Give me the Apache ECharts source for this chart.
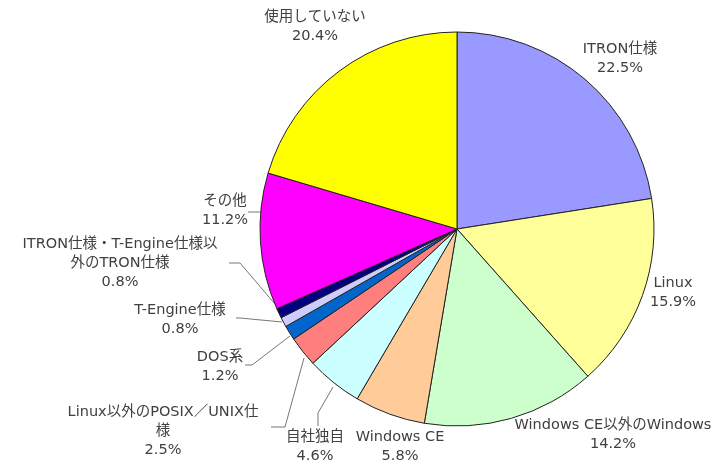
<!DOCTYPE html>
<html>
<head>
<meta charset="utf-8">
<script src="https://cdn.jsdelivr.net/npm/echarts@6/dist/echarts.min.js"></script>
<style>
html,body{margin:0;padding:0;background:#fff;}
#chart{width:718px;height:466px;}
</style>
</head>
<body>
<div id="chart"></div>
<script>
// Data
var categories = [
  'ITRON仕様',
  'Linux',
  'Windows CE以外のWindows',
  'Windows CE',
  '自社独自',
  'Linux以外のPOSIX／UNIX仕\n様',
  'DOS系',
  'T-Engine仕様',
  'ITRON仕様・T-Engine仕様以\n外のTRON仕様',
  'その他',
  '使用していない'
];
var shares = [22.5, 15.9, 14.2, 5.8, 4.6, 2.5, 1.2, 0.8, 0.8, 11.2, 20.4];

// Styling (not data)
var colors = ['#9999FF','#FFFF99','#CCFFCC','#FFCC99','#CCFFFF','#FF7F7F','#0066CC','#CCCCFF','#000080','#FF00FF','#FFFF00'];
var labelPos = [
  [620, 59], [673, 293], [613, 435], [400, 447], [315, 447],
  [163, 431], [220, 367], [180, 320], [120, 263], [225, 211], [315, 27]
];
var leaderLines = {
  4: [[333, 387], [318, 413], [318, 426]],
  5: [[304, 358], [285, 427], [271, 427]],
  6: [[290, 336], [252, 365], [245, 365]],
  7: [[282, 322], [240, 318], [236, 318]],
  8: [[280, 310], [240, 263], [229, 263]],
  9: [[261, 212], [254, 212], [248, 212]]
};

var chart = echarts.init(document.getElementById('chart'));
var seriesData = categories.map(function (name, i) {
  return {
    name: name,
    value: shares[i],
    itemStyle: { color: colors[i] },
    labelLine: { show: !!leaderLines[i] }
  };
});

chart.setOption({
  animation: false,
  backgroundColor: '#ffffff',
  series: [{
    type: 'pie',
    center: [457, 229],
    radius: 197,
    startAngle: 90,
    clockwise: true,
    avoidLabelOverlap: false,
    data: seriesData,
    itemStyle: { borderColor: '#222', borderWidth: 1 },
    emphasis: { disabled: true },
    label: {
      show: true,
      position: 'outside',
      fontFamily: '"DejaVu Sans", "Noto Sans CJK JP", sans-serif',
      fontSize: 14.5,
      lineHeight: 19,
      color: '#404040',
      align: 'center',
      formatter: function (p) {
        return p.name + '\n' + p.value.toFixed(1) + '%';
      }
    },
    labelLine: {
      show: true,
      lineStyle: { color: '#777', width: 1 }
    },
    labelLayout: function (p) {
      var i = p.dataIndex;
      var res = {
        x: labelPos[i][0],
        y: labelPos[i][1],
        align: 'center',
        verticalAlign: 'middle'
      };
      if (leaderLines[i]) res.labelLinePoints = leaderLines[i];
      return res;
    }
  }]
});
</script>
</body>
</html>
